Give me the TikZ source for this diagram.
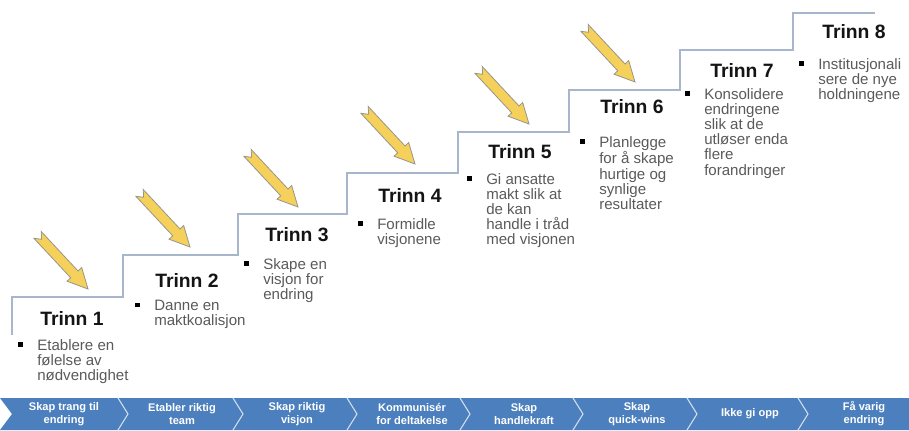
\documentclass[tikz,border=0pt]{standalone}
\usepackage{xcolor}
\usepackage{fontspec}
\setmainfont{Liberation Sans}
\usepackage{tikz}

\definecolor{stairblue}{RGB}{167,182,203}
\definecolor{arrowyellow}{RGB}{245,208,90}
\definecolor{arrowgray}{RGB}{150,150,140}
\definecolor{textgray}{RGB}{90,90,90}
\definecolor{barblue}{RGB}{76,127,189}

\newcommand{\punkt}{\llap{\textcolor{black}{\rule[0.22em]{0.32em}{0.32em}}\hspace{10.5pt}}}

\tikzset{
  stair/.style={draw=stairblue, line width=1.5pt},
  yarrow/.style={fill=arrowyellow, draw=arrowgray, line width=0.6pt},
  trinn/.style={anchor=west, inner sep=0.75pt, text=black!92, font=\bfseries\fontsize{14.5}{17}\selectfont},
  tiltak/.style={anchor=north west, inner sep=0pt, align=left, text=textgray, font=\fontsize{11.3}{11.4}\selectfont},
  fase/.style={inner sep=0pt, align=center, text=white, font=\bfseries\fontsize{8.3}{9.8}\selectfont},
  skille/.style={draw=white!75!barblue, line width=0.8pt}
}

\begin{document}
\begin{tikzpicture}[x=0.75pt,y=-0.75pt]
\useasboundingbox (0,0) rectangle (909,430);
\begin{scope}
\clip (0,0) rectangle (909,430);
\node (tittel) [anchor=base, inner sep=0pt, font=\bfseries\fontsize{24}{26}\selectfont] at (518,-7.5) {g};
\end{scope}
%Trapp
\draw [stair] (12,335) -- (12,297) -- (123,297) -- (123,255) -- (238,255) -- (238,214) -- (347,214) -- (347,173) -- (458,173) -- (458,132) -- (569,132) -- (569,90) -- (680,90) -- (680,50) -- (793,50) -- (793,13) -- (875,13) ;
%Piler
\draw [yarrow, shift={(88,289)}, rotate=-47] (0,0) -- (-20,10) -- (-20,5) -- (-74,5) -- (-68,0) -- (-74,-5) -- (-20,-5) -- (-20,-10) -- cycle ;
\draw [yarrow, shift={(190,247)}, rotate=-47] (0,0) -- (-20,10) -- (-20,5) -- (-74,5) -- (-68,0) -- (-74,-5) -- (-20,-5) -- (-20,-10) -- cycle ;
\draw [yarrow, shift={(298,207)}, rotate=-47] (0,0) -- (-20,10) -- (-20,5) -- (-74,5) -- (-68,0) -- (-74,-5) -- (-20,-5) -- (-20,-10) -- cycle ;
\draw [yarrow, shift={(415,164)}, rotate=-47] (0,0) -- (-20,10) -- (-20,5) -- (-74,5) -- (-68,0) -- (-74,-5) -- (-20,-5) -- (-20,-10) -- cycle ;
\draw [yarrow, shift={(529,124)}, rotate=-47] (0,0) -- (-20,10) -- (-20,5) -- (-74,5) -- (-68,0) -- (-74,-5) -- (-20,-5) -- (-20,-10) -- cycle ;
\draw [yarrow, shift={(635,82)}, rotate=-47] (0,0) -- (-20,10) -- (-20,5) -- (-74,5) -- (-68,0) -- (-74,-5) -- (-20,-5) -- (-20,-10) -- cycle ;
%Text
\node (trinn1) [trinn] at (39,318) {Trinn 1};
\node (trinn2) [trinn] at (154,280) {Trinn 2};
\node (trinn3) [trinn] at (264,235) {Trinn 3};
\node (trinn4) [trinn] at (377,195) {Trinn 4};
\node (trinn5) [trinn] at (487,152) {Trinn 5};
\node (trinn6) [trinn] at (599,107) {Trinn 6};
\node (trinn7) [trinn] at (709,70) {Trinn 7};
\node (trinn8) [trinn] at (821,32) {Trinn 8};
\node (tiltak1) [tiltak] at (37,339) {\punkt Etablere en\\følelse av\\nødvendighet};
\node (tiltak2) [tiltak] at (154,300) {\punkt Danne en\\maktkoalisjon};
\node (tiltak3) [tiltak] at (263,258) {\punkt Skape en\\visjon for\\endring};
\node (tiltak4) [tiltak] at (377,218) {\punkt Formidle\\visjonene};
\node (tiltak5) [tiltak] at (486,173) {\punkt Gi ansatte\\makt slik at\\de kan\\handle i tråd\\med visjonen};
\node (tiltak6) [tiltak] at (599,136) {\punkt Planlegge\\for å skape\\hurtige og\\synlige\\resultater};
\node (tiltak7) [tiltak] at (704,88) {\punkt Konsolidere\\endringene\\slik at de\\utløser enda\\flere\\forandringer};
\node (tiltak8) [tiltak] at (818,58) {\punkt Institusjonali\\sere de nye\\holdningene};
%Faser
\fill [barblue] (0,398) -- (909,398) -- (909,430) -- (0,430) -- (12,414) -- cycle ;
\draw [skille] (118,398) -- (128,414) -- (118,430) ;
\draw [skille] (233,398) -- (243,414) -- (233,430) ;
\draw [skille] (347,398) -- (357,414) -- (347,430) ;
\draw [skille] (460,398) -- (470,414) -- (460,430) ;
\draw [skille] (573,398) -- (583,414) -- (573,430) ;
\draw [skille] (687,398) -- (697,414) -- (687,430) ;
\draw [skille] (798,398) -- (808,414) -- (798,430) ;
\node (fase1) [fase] at (64,414) {Skap trang til\\endring};
\node (fase2) [fase] at (182,414) {Etabler riktig\\team};
\node (fase3) [fase] at (297,414) {Skap riktig\\visjon};
\node (fase4) [fase] at (412,414) {Kommunisér\\for deltakelse};
\node (fase5) [fase] at (524,414) {Skap\\handlekraft};
\node (fase6) [fase] at (637,414) {Skap\\quick-wins};
\node (fase7) [fase] at (750,414) {Ikke gi opp};
\node (fase8) [fase] at (864,414) {Få varig\\endring};
\end{tikzpicture}
\end{document}
